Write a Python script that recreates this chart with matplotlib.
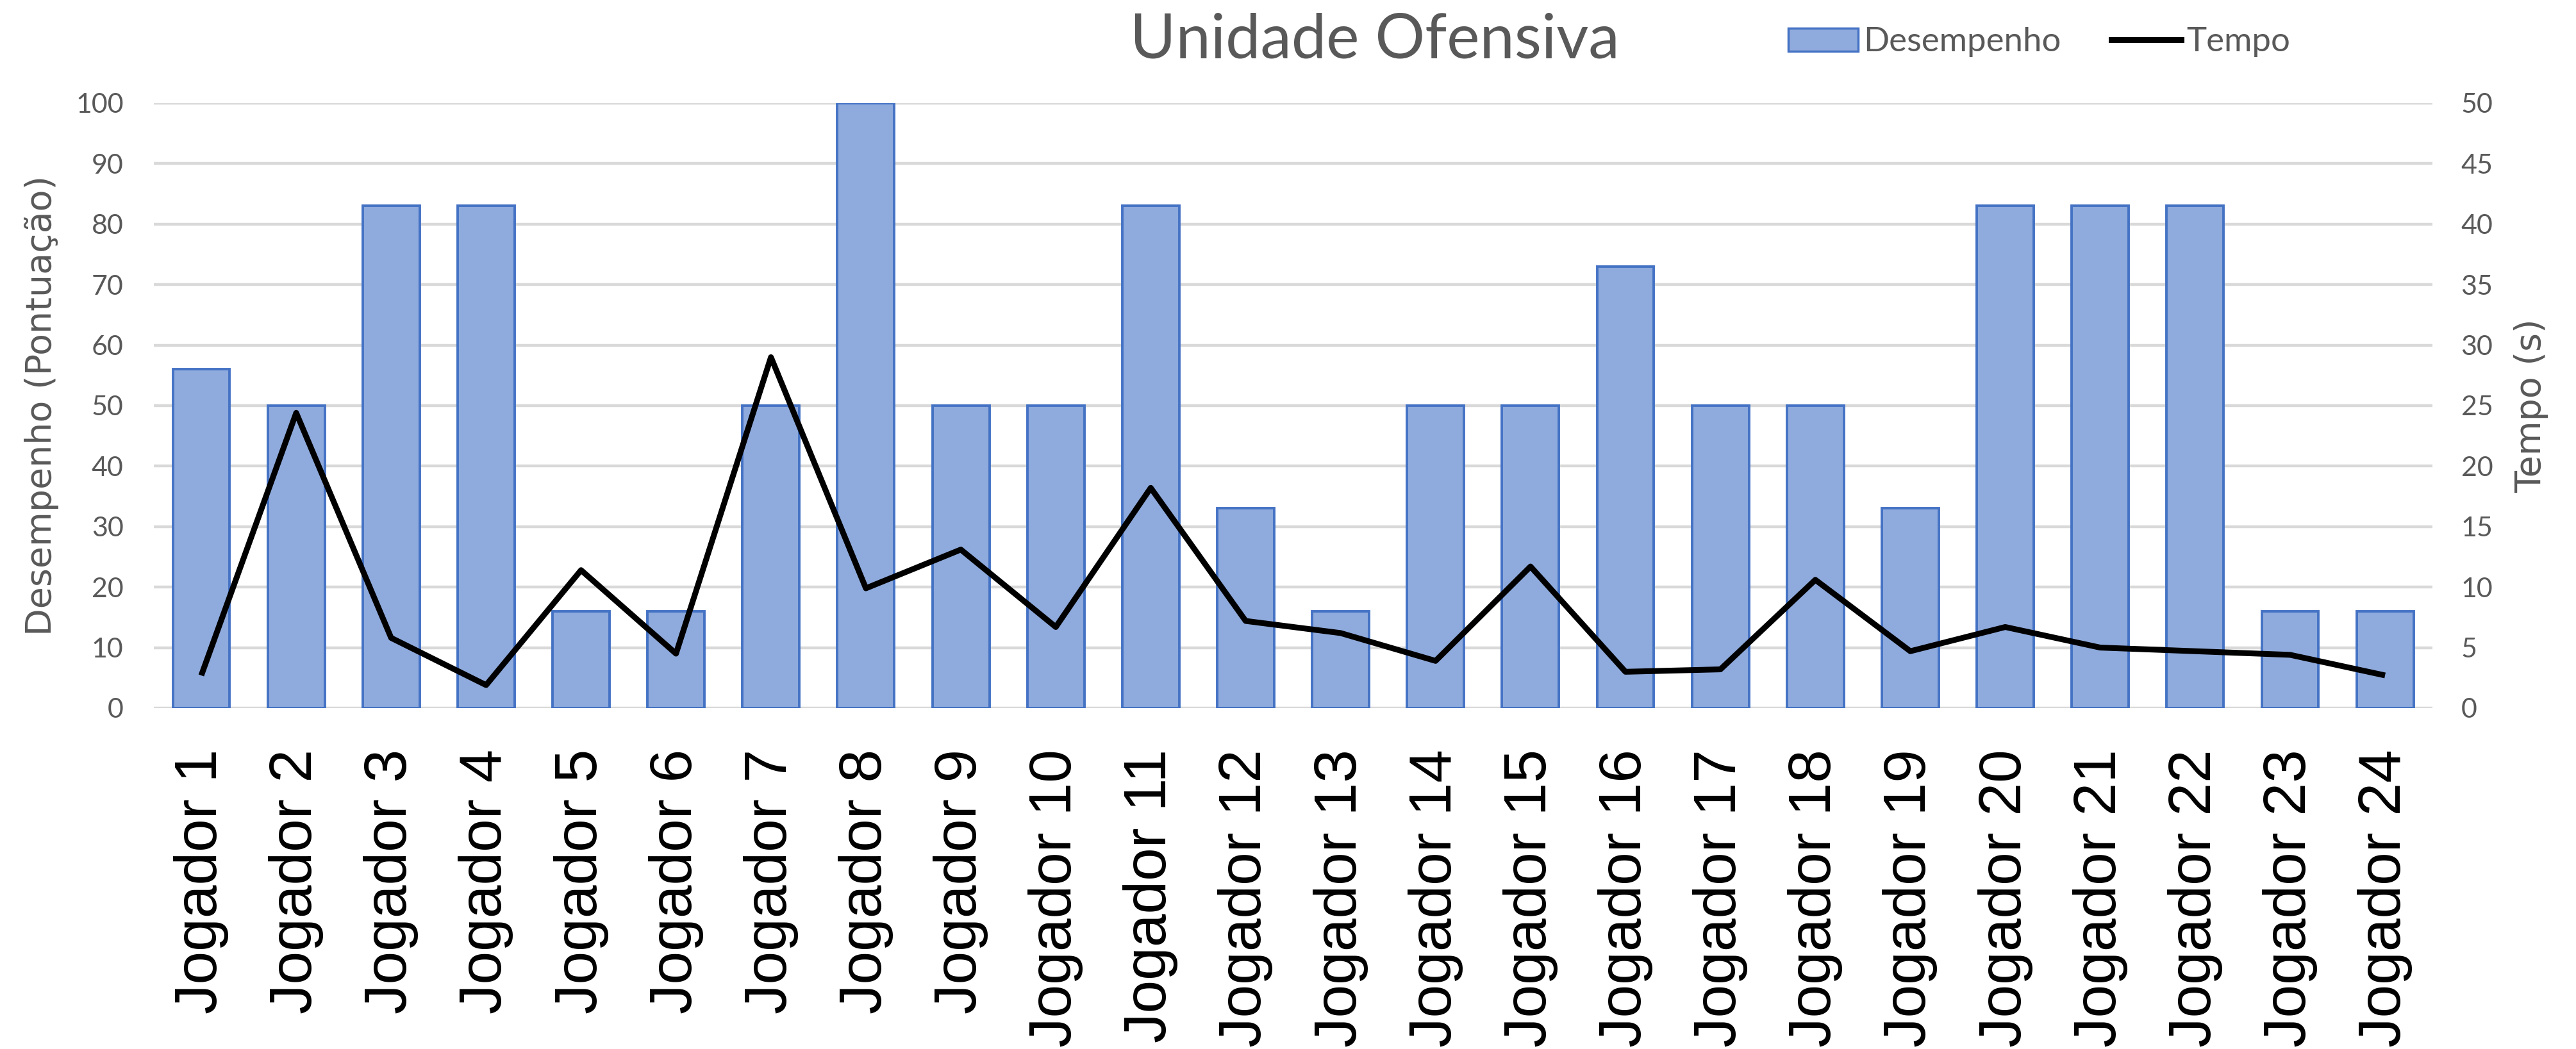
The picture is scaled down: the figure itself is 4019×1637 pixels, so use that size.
import matplotlib
matplotlib.use("Agg")
import matplotlib.pyplot as plt
from matplotlib.patches import Patch
from matplotlib.lines import Line2D

# data
jogadores = ["Jogador %d" % i for i in range(1, 25)]
desempenho = [56, 50, 83, 83, 16, 16, 50, 100, 50, 50, 83, 33,
              16, 50, 50, 73, 50, 50, 33, 83, 83, 83, 16, 16]
tempo = [2.7, 24.4, 5.8, 1.9, 11.4, 4.5, 29.0, 9.9, 13.1, 6.7, 18.2, 7.2,
         6.2, 3.9, 11.7, 3.0, 3.2, 10.6, 4.7, 6.7, 5.0, 4.7, 4.4, 2.7]
ticks_esq = list(range(0, 101, 10))
ticks_dir = list(range(0, 51, 5))

cinza = "#595959"
grade = "#D9D9D9"

fig = plt.figure(figsize=(40.19, 16.37), dpi=100)
ax = fig.add_axes([0.0597, 0.325, 0.8846, 0.5767])
ax2 = ax.twinx()

x = list(range(len(jogadores)))
ax.bar(x, desempenho, width=0.6, color="#8FAADC", edgecolor="#4472C4",
       linewidth=2.8, zorder=3)
ax2.plot(x, tempo, color="black", linewidth=6.5, solid_joinstyle="round",
         solid_capstyle="butt", zorder=4)

ax.set_xlim(-0.5, len(jogadores) - 0.5)
ax.set_ylim(0, 100)
ax2.set_ylim(0, 50)
ax.set_yticks(ticks_esq)
ax2.set_yticks(ticks_dir)

ax.yaxis.grid(True, color=grade, linewidth=3.2, zorder=0)
ax.set_axisbelow(True)
for a in (ax, ax2):
    for s in a.spines.values():
        s.set_visible(False)

ax.set_xticks(x)
ax.set_xticklabels(jogadores, rotation=90, fontsize=67,
                   fontfamily="Liberation Sans", color="black")
ax.tick_params(axis="x", length=0, pad=46)
ax.tick_params(axis="y", length=0, pad=34, labelsize=31, labelcolor=cinza)
ax2.tick_params(axis="y", length=0, pad=32, labelsize=31, labelcolor=cinza)
for lab in ax.get_yticklabels() + ax2.get_yticklabels():
    lab.set_fontfamily("Lato")

fig.text(65 / 4019, 0.6133, "Desempenho (Pontuação)", rotation=90,
         ha="center", va="center", fontsize=40, color=cinza,
         fontfamily="DejaVu Sans")
fig.text(3949 / 4019, 0.6133, "Tempo (s)", rotation=90,
         ha="center", va="center", fontsize=40, color=cinza,
         fontfamily="DejaVu Sans")

fig.text(0.5337, 0.945, "Unidade Ofensiva", ha="center", va="baseline",
         fontsize=70, color=cinza, fontfamily="Lato")

handles = [Patch(facecolor="#8FAADC", edgecolor="#4472C4", linewidth=2.5),
           Line2D([0], [0], color="black", linewidth=6.5)]
leg = fig.legend(handles, ["Desempenho", "Tempo"], loc="center left",
                 bbox_to_anchor=(2790 / 4019, 0.9597), ncol=2, frameon=False,
                 borderpad=0, borderaxespad=0, handlelength=2.06,
                 handletextpad=0.15, columnspacing=1.5,
                 prop={"family": "Lato", "size": 38})
for t in leg.get_texts():
    t.set_color(cinza)

fig.savefig("out.png", dpi=100)
